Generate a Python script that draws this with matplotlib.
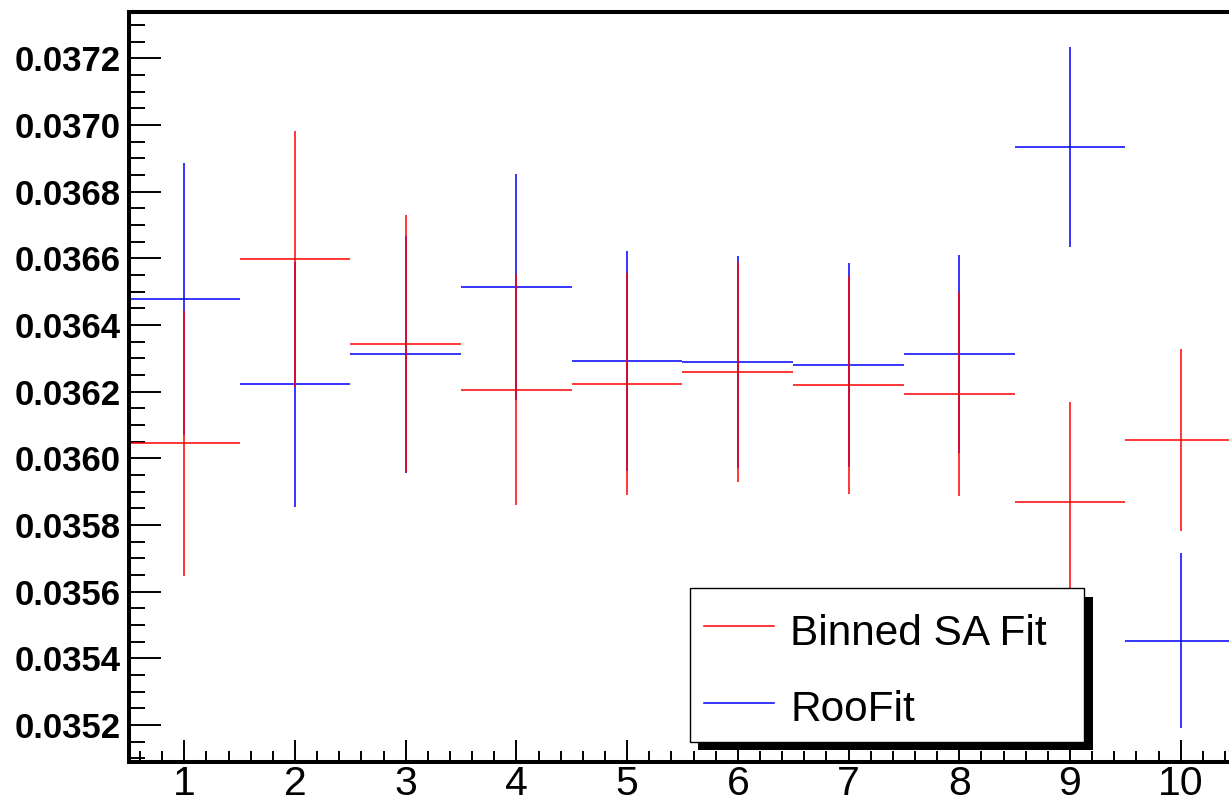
import numpy as np
import matplotlib
matplotlib.use("Agg")
import matplotlib.pyplot as plt
from matplotlib.ticker import MultipleLocator, FormatStrFormatter
from matplotlib.patches import Rectangle
from matplotlib.lines import Line2D

plt.rcParams['font.family'] = ['Liberation Sans', 'DejaVu Sans']

# data, one entry per bin
bins = np.arange(1, 11)
sa_val = [0.036045, 0.036598, 0.036344, 0.036206, 0.036224,
          0.036259, 0.036220, 0.036193, 0.035868, 0.036054]
sa_err = [0.000398, 0.000384, 0.000386, 0.000347, 0.000333,
          0.000330, 0.000328, 0.000307, 0.000302, 0.000273]
roo_val = [0.036478, 0.036222, 0.036312, 0.036514, 0.036292,
           0.036290, 0.036280, 0.036313, 0.036935, 0.035453]
roo_err = [0.000408, 0.000368, 0.000355, 0.000340, 0.000330,
           0.000318, 0.000307, 0.000297, 0.000300, 0.000262]
labels = ["Binned SA Fit", "RooFit"]
colors = ["#ff0000", "#0000ff"]

W, H = 1229, 807
fig = plt.figure(figsize=(W / 100, H / 100), dpi=100)
# axes run past the right edge of the figure, like the original
ax = fig.add_axes([129 / W, (H - 762) / H, (1236 - 129) / W, (762 - 12) / H])

ax.errorbar(bins, roo_val, yerr=roo_err, xerr=0.5, fmt='none',
            ecolor=colors[1], elinewidth=1.1, capsize=0)
ax.errorbar(bins, sa_val, yerr=sa_err, xerr=0.5, fmt='none',
            ecolor=colors[0], elinewidth=1.1, capsize=0)

ax.set_xlim(0.5, 10.5)
ax.set_ylim(0.035089, 0.037339)

ax.xaxis.set_major_locator(MultipleLocator(1))
ax.xaxis.set_minor_locator(MultipleLocator(0.2))
ax.yaxis.set_major_locator(MultipleLocator(0.0002))
ax.yaxis.set_minor_locator(MultipleLocator(0.00005))
ax.yaxis.set_major_formatter(FormatStrFormatter('%.4f'))

for s in ax.spines.values():
    s.set_linewidth(2.9)
ax.tick_params(axis='both', which='both', direction='in', width=1.4, color='black')
ax.tick_params(axis='y', which='major', length=23, pad=6, labelsize=25)
ax.tick_params(axis='y', which='minor', length=11.5)
ax.tick_params(axis='x', which='major', length=16, pad=2.5, labelsize=29.5)
ax.tick_params(axis='x', which='minor', length=8)
for t in ax.get_yticklabels():
    t.set_fontweight('bold')

# legend box with hard shadow (figure pixels)
def fx(px):
    return px / W

def fy(py):
    return (H - py) / H

fig.patches.append(Rectangle((fx(698), fy(750)), fx(1093) - fx(698), fy(597) - fy(750),
                             transform=fig.transFigure, facecolor='black',
                             edgecolor='none', zorder=5))
fig.patches.append(Rectangle((fx(690), fy(742)), fx(1084) - fx(690), fy(588) - fy(742),
                             transform=fig.transFigure, facecolor='white',
                             edgecolor='black', linewidth=1.0, zorder=6))
for i, (lab, c) in enumerate(zip(labels, colors)):
    yc = [626, 703][i]
    yb = [645, 721][i]
    fig.lines.append(Line2D([fx(704), fx(774)], [fy(yc), fy(yc)],
                            transform=fig.transFigure, color=c, lw=1.1, zorder=7))
    fig.text(fx(790), fy(yb), lab, fontsize=30.5, va='baseline', ha='left', zorder=7)

fig.savefig("out.png", dpi=100)
